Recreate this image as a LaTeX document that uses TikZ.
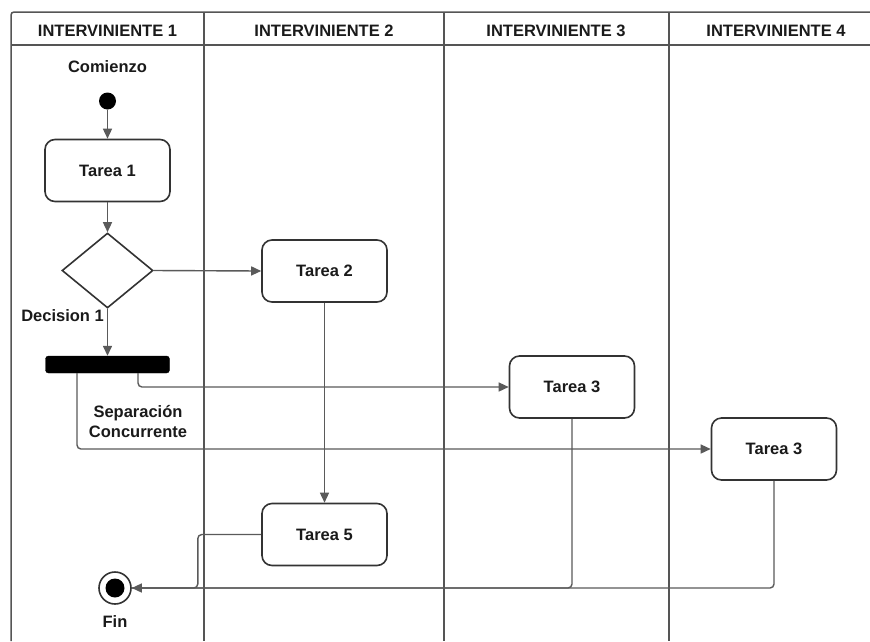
\documentclass[tikz,border=0pt]{standalone}
\usepackage{fontspec}
\setmainfont{Liberation Sans}
\usetikzlibrary{arrows.meta,shapes.geometric,calc}

\definecolor{lane}{HTML}{555555}
\definecolor{wire}{HTML}{5A5A5A}
\definecolor{edge}{HTML}{333333}
\definecolor{ink}{HTML}{1A1A1A}

\tikzset{
  lbl/.style={font=\fontsize{16.5}{20}\selectfont\bfseries, text=ink, inner sep=0pt, align=center},
  task/.style={lbl, draw=edge, line width=1.6pt, rounded corners=10pt, fill=white,
               minimum width=125pt, minimum height=62pt},
  decision/.style={diamond, draw=edge, line width=1.6pt, fill=white, inner sep=0pt,
                   minimum width=91pt, minimum height=75pt},
  forkbar/.style={draw=black, fill=black, rounded corners=3pt, inner sep=0pt,
                  minimum width=124pt, minimum height=17pt},
  startdot/.style={circle, fill=black, inner sep=0pt, minimum size=17pt},
  endring/.style={circle, draw=edge, line width=1.6pt, fill=white, inner sep=0pt, minimum size=32pt},
  enddot/.style={circle, fill=black, inner sep=0pt, minimum size=19pt},
  wireline/.style={draw=wire, line width=1.4pt, rounded corners=4pt},
  conn/.style={wireline, -{Triangle[length=10pt,width=9pt]}},
  laneline/.style={draw=lane, line width=1.5pt},
}

\begin{document}
\begin{tikzpicture}[x=1pt,y=-1pt]
\useasboundingbox (0,0) rectangle (870,641);
\fill[white] (0,0) rectangle (870,641);

% swimlane frame
\draw[laneline, rounded corners=3pt] (870,12) -- (11,12) -- (11,641);
\draw[laneline] (11,45) -- (870,45);
\draw[laneline] (204,12) -- (204,641);
\draw[laneline] (444,12) -- (444,641);
\draw[laneline] (669,12) -- (669,641);

% lane headers
\node[lbl] (h1) at (107.5,31) {INTERVINIENTE 1};
\node[lbl] (h2) at (324,31) {INTERVINIENTE 2};
\node[lbl] (h3) at (556,31) {INTERVINIENTE 3};
\node[lbl] (h4) at (776,31) {INTERVINIENTE 4};

% activity nodes
\node[lbl] (comienzo) at (107.5,67) {Comienzo};
\node[startdot] (start) at (107.5,101) {};
\node[task] (t1) at (107.5,170.5) {Tarea 1};
\node[decision] (d1) at (107.5,270.5) {};
\node[lbl, anchor=east] (d1lbl) at (104,316) {Decision 1};
\node[forkbar] (bar) at (107.5,364.5) {};
\node[lbl] (sep) at (138,422) {Separación\\Concurrente};
\node[task] (t2) at (324.5,271) {Tarea 2};
\node[task] (t3) at (572,387) {Tarea 3};
\node[task] (t3b) at (774,449) {Tarea 3};
\node[task] (t5) at (324.5,534.5) {Tarea 5};
\node[endring] (fin) at (115,588) {};
\node[enddot] (findot) at (fin.center) {};
\node[lbl] (finlbl) at (115,622) {Fin};

% control flow
\draw[conn] (start) -- (t1.north);
\draw[conn] (t1.south) -- (d1.north);
\draw[conn] (d1.east) -- (t2.west);
\draw[conn] (d1.south) -- (bar.north);
\draw[conn] ([xshift=30.5pt]bar.south) |- (t3.west);
\draw[conn] ([xshift=-30.5pt]bar.south) |- (t3b.west);
\draw[conn] (t2.south) -- (t5.north);

% joins into the final node
\draw[wireline] (t5.west) -| ([xshift=66pt]fin.east) -- (fin.east);
\draw[wireline] (t3.south) |- (fin.east);
\draw[conn] (t3b.south) |- (fin.east);
\end{tikzpicture}
\end{document}
